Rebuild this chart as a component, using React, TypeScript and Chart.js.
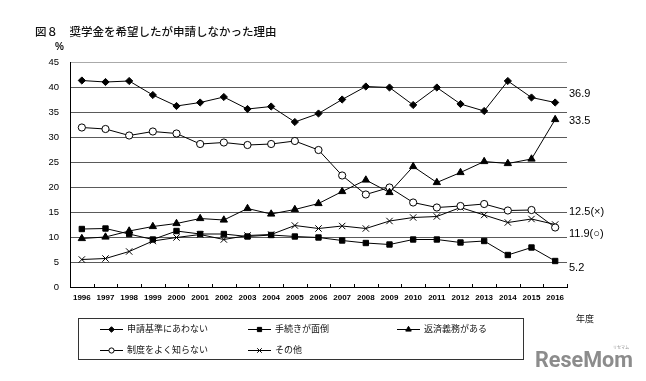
import React, { useEffect, useRef } from "react";
import { Chart, registerables } from "chart.js";
import { drawPoint } from "chart.js/helpers";

Chart.register(...registerables);

const years = ["1996","1997","1998","1999","2000","2001","2002","2003","2004","2005","2006","2007","2008","2009","2010","2011","2012","2013","2014","2015","2016"];
const seriesNames = ["申請基準にあわない", "手続きが面倒", "返済義務がある", "制度をよく知らない", "その他"];
const criteria = [41.3, 41.0, 41.2, 38.4, 36.2, 36.9, 38.0, 35.6, 36.1, 33.0, 34.7, 37.5, 40.1, 39.9, 36.4, 39.9, 36.6, 35.2, 41.2, 37.9, 36.9];
const procedure = [11.6, 11.7, 10.6, 9.5, 11.2, 10.6, 10.6, 10.1, 10.4, 10.1, 9.9, 9.3, 8.8, 8.5, 9.5, 9.5, 8.9, 9.2, 6.4, 7.9, 5.2];
const repayment = [9.7, 10.0, 11.2, 12.1, 12.7, 13.7, 13.4, 15.7, 14.6, 15.5, 16.7, 19.1, 21.4, 18.9, 24.1, 20.9, 22.9, 25.1, 24.7, 25.6, 33.5];
const unaware = [31.9, 31.6, 30.3, 31.1, 30.7, 28.6, 28.9, 28.4, 28.6, 29.2, 27.4, 22.3, 18.5, 19.9, 16.9, 15.9, 16.2, 16.6, 15.3, 15.4, 11.9];
const other = [5.5, 5.7, 7.1, 9.2, 9.9, 10.5, 9.5, 10.3, 10.5, 12.3, 11.7, 12.2, 11.7, 13.2, 13.9, 14.1, 15.9, 14.4, 12.9, 13.6, 12.5];
const yTicks = [0, 5, 10, 15, 20, 25, 30, 35, 40, 45];
const endSuffix = ["", "", "", "(○)", "(×)"];

const titleText = "図８　奨学金を希望したが申請しなかった理由";
const unitText = "%";
const xTitleText = "年度";

const JP = '"Noto Sans CJK JP", "Liberation Sans", sans-serif';
const NUM = '"Liberation Sans", Arial, sans-serif';

const pointStyles = ["rectRot", "rect", "triangle", "circle", "crossRot"];
const pointRadii = [3.6, 3.8, 4.2, 3.6, 4.5];
const legendRadii = [2.8, 3.0, 3.2, 2.6, 3.2];
const pointFills = ["#000", "#000", "#000", "#fff", "#000"];
// pixel offsets of end labels relative to the series' last point
const endOffsets = [-8.5, 7, 1.5, 6.5, -12.5];

const extras = {
  id: "extras",
  afterDraw(chart: any) {
    const ctx = chart.ctx as CanvasRenderingContext2D;
    const { left, right, bottom } = chart.chartArea;
    const xs = chart.scales.x;
    const ys = chart.scales.y;
    ctx.save();
    // x tick marks pointing up
    ctx.strokeStyle = "#000";
    ctx.lineWidth = 1;
    for (let i = 0; i <= years.length; i++) {
      let x: number;
      if (i === 0) x = left;
      else if (i === years.length) x = right;
      else x = (xs.getPixelForValue(i - 1) + xs.getPixelForValue(i)) / 2;
      const px = Math.round(x) + 0.5;
      ctx.beginPath();
      ctx.moveTo(px, bottom);
      ctx.lineTo(px, bottom - 3);
      ctx.stroke();
    }
    // title
    ctx.fillStyle = "#111";
    ctx.textBaseline = "middle";
    ctx.textAlign = "left";
    ctx.font = `500 11.5px ${JP}`;
    ctx.fillText(titleText, 35, 32);
    // unit
    ctx.font = `bold 10px ${NUM}`;
    ctx.fillText(unitText, 55, 47);
    // x title
    ctx.font = `9px ${JP}`;
    ctx.fillText(xTitleText, 576, 319);
    // end labels
    ctx.fillStyle = "#000";
    ctx.font = `11px ${NUM}`;
    chart.data.datasets.forEach((ds: any, i: number) => {
      const last = ds.data[ds.data.length - 1];
      const y = ys.getPixelForValue(last) + endOffsets[i];
      ctx.fillText(`${last.toFixed(1)}${endSuffix[i]}`, right + 2, y);
    });
    // legend box
    ctx.strokeStyle = "#333";
    ctx.strokeRect(78.5, 318.5, 445, 41);
    const cols = [100, 248, 397];
    const rows = [328.5, 350];
    chart.data.datasets.forEach((ds: any, i: number) => {
      const cx = cols[i < 3 ? i : i - 3];
      const cy = rows[i < 3 ? 0 : 1];
      ctx.strokeStyle = "#000";
      ctx.lineWidth = 1;
      ctx.beginPath();
      ctx.moveTo(cx, Math.round(cy) + 0.5);
      ctx.lineTo(cx + 23, Math.round(cy) + 0.5);
      ctx.stroke();
      ctx.fillStyle = pointFills[i];
      ctx.strokeStyle = "#000";
      drawPoint(ctx, { pointStyle: pointStyles[i] as any, radius: legendRadii[i], rotation: 0, borderWidth: 1 } as any, cx + 11.5, Math.round(cy) + 0.5);
      ctx.fillStyle = "#111";
      ctx.font = `9px ${JP}`;
      ctx.textAlign = "left";
      ctx.textBaseline = "middle";
      ctx.fillText(ds.label, cx + 27, cy);
    });
    // watermark logo
    ctx.fillStyle = "#8c8c8c";
    ctx.font = `bold 22px Roboto, ${NUM}`;
    ctx.textBaseline = "alphabetic";
    const logo = "ReseMom";
    const w = ctx.measureText(logo).width;
    ctx.save();
    ctx.translate(535, 367);
    ctx.scale(98 / w, 1);
    ctx.fillText(logo, 0, 0);
    ctx.restore();
    ctx.font = `4px ${JP}`;
    ctx.fillText("リセマム", 613, 349);
    ctx.restore();
  },
};

export default function App() {
  const ref = useRef<HTMLCanvasElement | null>(null);
  useEffect(() => {
    if (!ref.current) return;
    const values = [criteria, procedure, repayment, unaware, other];
    const chart = new Chart(ref.current, {
      type: "line",
      data: {
        labels: years,
        datasets: values.map((d, i) => ({
          label: seriesNames[i],
          data: d,
          borderColor: "#000",
          borderWidth: 1,
          backgroundColor: pointFills[i],
          pointStyle: pointStyles[i] as any,
          pointRadius: pointRadii[i],
          pointBorderColor: "#000",
          pointBackgroundColor: pointFills[i],
          pointBorderWidth: 1,
          tension: 0,
          fill: false,
        })),
      },
      options: {
        responsive: false,
        animation: false,
        layout: { padding: { left: 0, top: 62, right: 79, bottom: 0 } },
        plugins: { legend: { display: false }, tooltip: { enabled: false }, title: { display: false } },
        scales: {
          x: {
            type: "category",
            offset: true,
            grid: { display: true, drawOnChartArea: false, drawTicks: false },
            border: { display: true, color: "#000", width: 1 },
            ticks: { color: "#000", font: { family: NUM, size: 8, weight: "bold" }, padding: 6, maxRotation: 0, autoSkip: false },
            afterFit: (s: any) => { s.height = 94; },
          },
          y: {
            min: yTicks[0],
            max: yTicks[yTicks.length - 1],
            afterBuildTicks: (s: any) => { s.ticks = yTicks.map((v) => ({ value: v })); },
            grid: { color: (c: any) => (c.tick && c.tick.value === 45 ? "#aaa" : "#5a5a5a"), drawTicks: false, lineWidth: 1 },
            border: { display: true, color: "#000", width: 1 },
            ticks: { color: "#000", font: { family: NUM, size: 9.5 }, padding: 11 },
            afterFit: (s: any) => { s.width = 70; },
          },
        },
      },
      plugins: [extras],
    });
    return () => chart.destroy();
  }, []);
  return (
    <div style={{ position: "fixed", left: 0, top: 0, width: 646, height: 381, background: "#fff" }}>
      <canvas ref={ref} width={646} height={381} />
    </div>
  );
}
